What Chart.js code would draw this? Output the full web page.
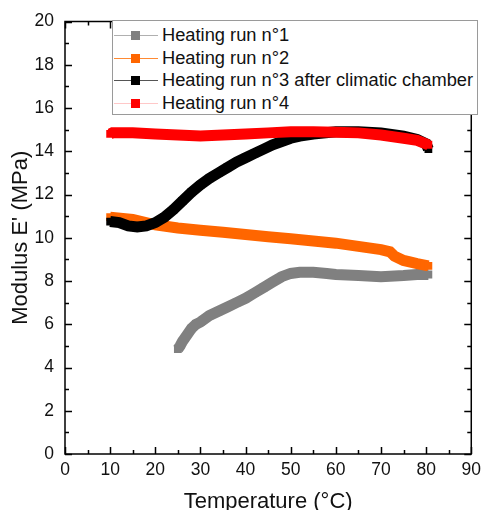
<!DOCTYPE html>
<html>
<head>
<meta charset="utf-8">
<script src="https://cdn.jsdelivr.net/npm/chart.js@4.4.1/dist/chart.umd.min.js"></script>
<style>
  html, body { margin: 0; padding: 0; background: #fff; overflow: hidden; }
  #wrap { position: relative; width: 487px; height: 520px; }
  #legend {
    position: absolute; left: 112px; top: 20px; width: 366px; height: 95px;
    background: #fff; border: 1px solid #9a9a9a; box-sizing: border-box;
    font-family: "Liberation Sans", Arial, sans-serif; font-size: 18.3px; color: #111;
    padding-top: 3px;
  }
  .row { position: relative; height: 22.7px; line-height: 22.7px; padding-left: 49px; white-space: nowrap; }
  .row .ln { position: absolute; left: 1px; top: 11px; width: 44px; height: 1px; }
  .row .sq { position: absolute; left: 18px; top: 7px; width: 9px; height: 9px; }
</style>
</head>
<body>
<div id="wrap">
  <canvas id="modulusChart" width="487" height="520"></canvas>
  <div id="legend"></div>
</div>
<script>
// temperature (°C) and storage modulus E' (MPa)
const run1Temp = [25, 25.5, 26, 27, 28, 29, 30, 32, 34, 36, 38, 40, 42, 44, 46, 48, 50, 52, 55, 58, 60, 65, 70, 75, 78, 80.5];
const run1Mod = [4.85, 5.0, 5.2, 5.5, 5.8, 6.0, 6.1, 6.4, 6.6, 6.8, 7.0, 7.2, 7.45, 7.7, 7.95, 8.2, 8.35, 8.4, 8.4, 8.35, 8.3, 8.25, 8.2, 8.25, 8.3, 8.3];

const run2Temp = [10, 15, 20, 25, 30, 35, 40, 45, 50, 55, 60, 65, 70, 72, 73, 75, 78, 80.5];
const run2Mod = [10.95, 10.85, 10.6, 10.45, 10.35, 10.25, 10.15, 10.05, 9.95, 9.85, 9.75, 9.6, 9.45, 9.35, 9.15, 8.95, 8.8, 8.7];

const run3Temp = [10, 12, 14, 16, 18, 20, 22, 24, 26, 28, 30, 32, 34, 36, 38, 40, 42, 44, 46, 48, 50, 52, 55, 60, 65, 70, 75, 78, 80, 80.5];
const run3Mod = [10.75, 10.7, 10.55, 10.5, 10.55, 10.7, 10.95, 11.3, 11.7, 12.1, 12.45, 12.75, 13.0, 13.25, 13.5, 13.7, 13.9, 14.1, 14.3, 14.45, 14.6, 14.7, 14.8, 14.9, 14.9, 14.85, 14.7, 14.55, 14.35, 14.1];

const run4Temp = [10, 10.5, 12, 15, 20, 25, 30, 35, 40, 45, 50, 55, 60, 65, 70, 75, 78, 80.5];
const run4Mod = [14.8, 14.85, 14.85, 14.85, 14.8, 14.75, 14.7, 14.75, 14.8, 14.85, 14.9, 14.9, 14.88, 14.85, 14.75, 14.6, 14.5, 14.3];

const seriesLabels = ['Heating run n°1', 'Heating run n°2', 'Heating run n°3 after climatic chamber', 'Heating run n°4'];
const seriesColors = ['#808080', '#ff6600', '#000000', '#ff0000'];
const legendLineColors = ['#b0b0b0', '#ff8a33', '#555555', '#ffc8c8'];

const xTicks = [0, 10, 20, 30, 40, 50, 60, 70, 80, 90];
const yTicks = [0, 2, 4, 6, 8, 10, 12, 14, 16, 18, 20];

function toPoints(xs, ys) {
  return xs.map((x, i) => ({ x: x, y: ys[i] }));
}

const allTemps = [run1Temp, run2Temp, run3Temp, run4Temp];
const allMods = [run1Mod, run2Mod, run3Mod, run4Mod];

// inward ticks on all four sides plus the frame
const frameTicks = {
  id: 'frameTicks',
  afterDraw(chart) {
    const ctx = chart.ctx;
    const a = chart.chartArea;
    const xs = chart.scales.x;
    const ys = chart.scales.y;
    ctx.save();
    ctx.strokeStyle = '#000';
    ctx.lineWidth = 1.5;
    ctx.beginPath();
    for (let v = 0; v <= 90; v += 5) {
      const px = Math.round(xs.getPixelForValue(v)) + 0.5;
      const len = xTicks.includes(v) ? 7 : 4;
      ctx.moveTo(px, a.bottom); ctx.lineTo(px, a.bottom - len);
      ctx.moveTo(px, a.top); ctx.lineTo(px, a.top + len);
    }
    for (let v = 0; v <= 20; v += 1) {
      const py = Math.round(ys.getPixelForValue(v)) + 0.5;
      const len = yTicks.includes(v) ? 7 : 4;
      ctx.moveTo(a.left, py); ctx.lineTo(a.left + len, py);
      ctx.moveTo(a.right, py); ctx.lineTo(a.right - len, py);
    }
    ctx.stroke();
    ctx.strokeRect(a.left, a.top, a.right - a.left, a.bottom - a.top);
    ctx.restore();
  }
};

const chart = new Chart(document.getElementById('modulusChart').getContext('2d'), {
  type: 'line',
  data: {
    datasets: seriesLabels.map((label, i) => ({
      label: label,
      data: toPoints(allTemps[i], allMods[i]),
      borderColor: seriesColors[i],
      backgroundColor: seriesColors[i],
      borderWidth: 11,
      borderJoinStyle: 'miter',
      pointStyle: 'rect',
      pointRadius: 5.5,
      pointBorderWidth: 0,
      tension: 0,
      fill: false,
      order: 4 - i,
    })),
  },
  options: {
    responsive: false,
    animation: false,
    layout: { padding: { left: 0, top: 21, right: 9, bottom: 0 } },
    plugins: {
      legend: { display: false },
      tooltip: { enabled: false },
    },
    scales: {
      x: {
        type: 'linear',
        min: 0,
        max: 90,
        afterBuildTicks(scale) { scale.ticks = xTicks.map((v) => ({ value: v })); },
        afterFit(scale) { scale.height = 66; },
        grid: { display: false, drawTicks: false },
        border: { display: false },
        ticks: { color: '#111', padding: 6, font: { family: 'Liberation Sans', size: 17.5 }, maxRotation: 0 },
        title: {
          display: true,
          text: 'Temperature (°C)',
          color: '#111',
          font: { family: 'Liberation Sans', size: 22 },
          padding: { top: 0, bottom: 5 },
        },
      },
      y: {
        type: 'linear',
        min: 0,
        max: 20,
        afterBuildTicks(scale) { scale.ticks = yTicks.map((v) => ({ value: v })); },
        afterFit(scale) { scale.width = 65; },
        grid: { display: false, drawTicks: false },
        border: { display: false },
        ticks: { color: '#111', padding: 11, font: { family: 'Liberation Sans', size: 17.5 } },
        title: {
          display: true,
          text: "Modulus E' (MPa)",
          color: '#111',
          font: { family: 'Liberation Sans', size: 22 },
          padding: { top: 8, bottom: 0 },
        },
      },
    },
  },
  plugins: [frameTicks],
});

const legendEl = document.getElementById('legend');
seriesLabels.forEach((label, i) => {
  const row = document.createElement('div');
  row.className = 'row';
  row.innerHTML = '<span class="ln" style="background:' + legendLineColors[i] + '"></span>' +
    '<span class="sq" style="background:' + seriesColors[i] + '"></span>' + label;
  legendEl.appendChild(row);
});
</script>
</body>
</html>
